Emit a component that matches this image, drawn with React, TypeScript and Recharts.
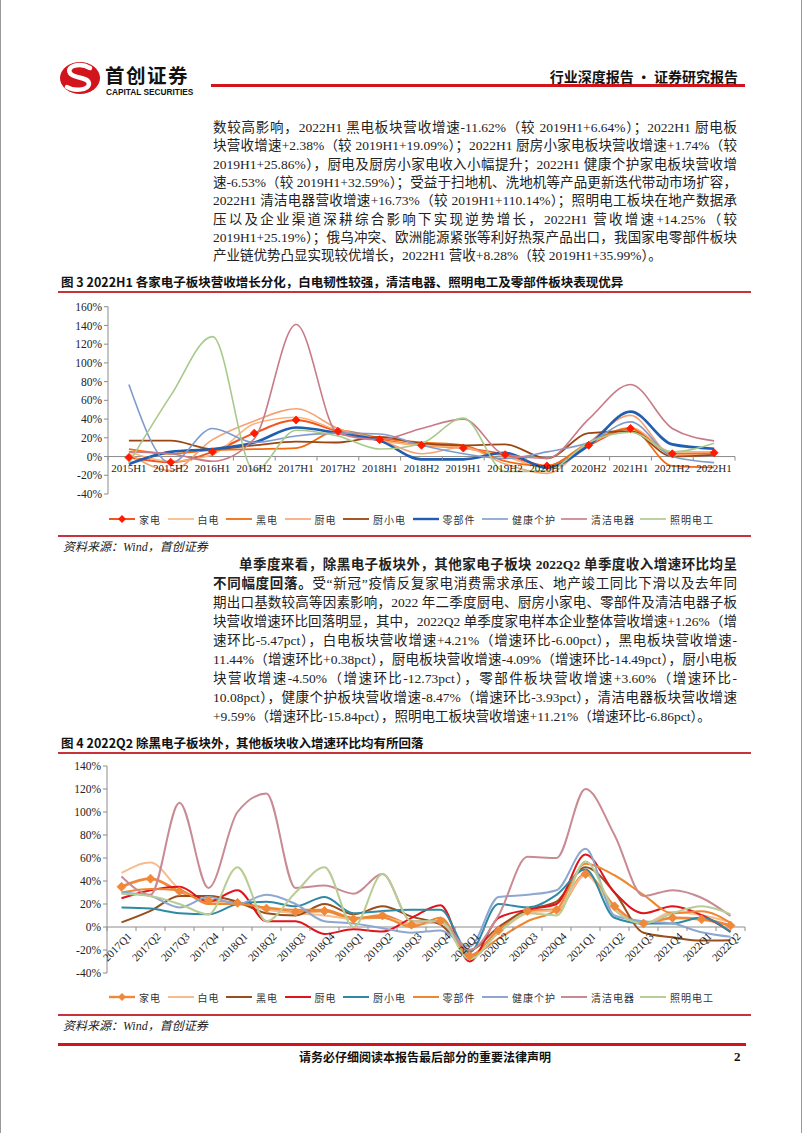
import React from 'react'
import { LineChart, Line, XAxis, YAxis, ReferenceLine, Legend } from 'recharts'

// ---------- 图3 半年度 ----------
const halfYears = ['2015H1', '2015H2', '2016H1', '2016H2', '2017H1', '2017H2', '2018H1', '2018H2', '2019H1', '2019H2', '2020H1', '2020H2', '2021H1', '2021H2', '2022H1']
const h1Jiadian = [-1, -6, 5, 25, 39, 27, 18, 12, 9, 2, -10, 12, 30, 3, 4]
const h1Baidian = [5, -5, 2, 35, 42, 28, 17, 12, 9, 0, -12, 13, 31, 5, 5]
const h1Heidian = [8, 3, 7, 8, 9, 28, 20, 15, 12, -5, -10, 15, 30, -10, -11.62]
const h1Chudian = [3, -15, 18, 38, 51, 30, 18, 3, 10, -8, -18, 15, 44, 2, 2.38]
const h1Chuxiaodian = [17, 17, 8, 12, 16, 15, 21, 14, 12, 13, -2, 25, 27, 0, 1.74]
const h1Lingbujian = [-8, 5, 8, 15, 31, 25, 17, -3, -3, 4, -12, 12, 48, 13, 8.28]
const h1Jiankang = [77, -7, 30, 15, 22, 25, 24, 12, 3, -2, 5, 15, 37, 0, -6.53]
const h1Qingjie = [5, 3, -5, 19, 141, 25, 18, 30, 40, 2, -2, 40, 77, 30, 16.73]
const h1Zhaoming = [-7, 65, 128, -15, 28, 22, 8, 14, 41, -16, -15, 15, 26, 5, 14.25]
const h1Ticks = [-40, -20, 0, 20, 40, 60, 80, 100, 120, 140, 160]

// ---------- 图4 单季度 ----------
const quarters = ['2017Q1', '2017Q2', '2017Q3', '2017Q4', '2018Q1', '2018Q2', '2018Q3', '2018Q4', '2019Q1', '2019Q2', '2019Q3', '2019Q4', '2020Q1', '2020Q2', '2020Q3', '2020Q4', '2021Q1', '2021Q2', '2021Q3', '2021Q4', '2022Q1', '2022Q2']
const qJiadian = [35, 42, 31, 23, 21, 16, 13, 14, 7, 10, 2, 5, -25, -3, 14, 15, 46, 18, 3, 8, 6.73, 1.26]
const qBaidian = [47, 56, 33, 22, 20, 15, 12, 10, 7, 8, 3, 4, -27, -5, 12, 15, 45, 15, 3, 13, 10.21, 4.21]
const qHeidian = [4, 14, 27, 27, 22, 12, 10, 20, 11, 18, 9, 2, -20, 0, 15, 22, 52, 30, -5, -9, -11.82, -11.44]
const qChudian = [25, 32, 35, 22, 32, 5, 5, -6, -2, -4, 8, 19, -30, 8, 15, 20, 63, 30, 12, 18, 10.4, -4.09]
const qChuxiaodian = [17, 16, 12, 11, 20, 22, 18, 26, 12, 14, 15, 15, -22, 20, 17, 28, 50, 8, 3, 3, 8.23, -4.5]
const qLingbujian = [30, 33, 32, 20, 20, 17, 15, 15, 8, 8, 0, 8, -25, -10, 5, 15, 55, 45, 28, 12, 13.68, 3.6]
const qJiankang = [30, 27, 17, 26, 20, 28, 20, 5, 3, -1, -5, -3, -17, 26, 28, 32, 68, 10, 5, 3, -4.54, -8.47]
const qQingjie = [44, 28, 108, 34, 100, 116, 34, 36, 29, 46, 5, 5, -20, 10, 61, 60, 120, 80, 27, 32, 25.43, 9.59]
const qZhaoming = [29, 27, 20, 11, 52, 5, 30, 52, 0, 46, 5, 5, -28, -5, 12, 10, 57, 15, 3, 12, 18.07, 11.21]
const qTicks = [-40, -20, 0, 20, 40, 60, 80, 100, 120, 140]

const h1Series = [
  { name: '家电', values: h1Jiadian, color: '#F0561E', width: 2, marker: '#FF1A00' },
  { name: '白电', values: h1Baidian, color: '#F9B47C', width: 1.6 },
  { name: '黑电', values: h1Heidian, color: '#F26B10', width: 1.8 },
  { name: '厨电', values: h1Chudian, color: '#F5A272', width: 1.6 },
  { name: '厨小电', values: h1Chuxiaodian, color: '#9A4612', width: 1.8 },
  { name: '零部件', values: h1Lingbujian, color: '#1F5EB0', width: 2.6 },
  { name: '健康个护', values: h1Jiankang, color: '#7F9BCC', width: 1.6 },
  { name: '清洁电器', values: h1Qingjie, color: '#C97A87', width: 1.6 },
  { name: '照明电工', values: h1Zhaoming, color: '#A9C98B', width: 1.6 },
]

const qSeries = [
  { name: '家电', values: qJiadian, color: '#F0883A', width: 2.8, marker: '#F0883A' },
  { name: '白电', values: qBaidian, color: '#F7BC8E', width: 2 },
  { name: '黑电', values: qHeidian, color: '#9A4E1E', width: 2 },
  { name: '厨电', values: qChudian, color: '#E0141C', width: 2 },
  { name: '厨小电', values: qChuxiaodian, color: '#2E8AA4', width: 2 },
  { name: '零部件', values: qLingbujian, color: '#EE8632', width: 2 },
  { name: '健康个护', values: qJiankang, color: '#8DA7D0', width: 2 },
  { name: '清洁电器', values: qQingjie, color: '#C98B93', width: 2 },
  { name: '照明电工', values: qZhaoming, color: '#B8CC96', width: 2 },
]

const h1Data = halfYears.map((cat, i) => {
  const row: any = { cat }
  h1Series.forEach((s) => (row[s.name] = s.values[i]))
  return row
})
const qData = quarters.map((cat, i) => {
  const row: any = { cat }
  qSeries.forEach((s) => (row[s.name] = s.values[i]))
  return row
})

const SERIF = '"Liberation Serif", "Noto Sans CJK SC", serif'
const CJK = '"Noto Sans CJK SC", sans-serif'
const RED = '#D2141C'
const AXIS = '#8C8C8C'

// chart geometry
const H1_PLOT_H = 187.3
const H1_PLOT_W = 627
const H1_BAND = H1_PLOT_W / halfYears.length
const Q_PLOT_H = 207
const Q_PLOT_W = 638
const Q_BAND = Q_PLOT_W / quarters.length

function HalfTick(props: any) {
  const { x, y, payload, index } = props
  const zy = y - (H1_PLOT_H * 40) / 200
  return (
    <g>
      <line x1={x - H1_BAND / 2} x2={x - H1_BAND / 2} y1={zy} y2={zy + 4} stroke={AXIS} />
      {index === halfYears.length - 1 && <line x1={x + H1_BAND / 2} x2={x + H1_BAND / 2} y1={zy} y2={zy + 4} stroke={AXIS} />}
      <text x={x} y={zy + 15} textAnchor="middle" fontSize={11} fontFamily={SERIF} fill="#222">
        {payload.value}
      </text>
    </g>
  )
}

function QuarterTick(props: any) {
  const { x, y, payload, index } = props
  const zy = y - (Q_PLOT_H * 40) / 180
  const ax = x + 11
  const ay = zy + 10
  return (
    <g>
      <line x1={x - Q_BAND / 2} x2={x - Q_BAND / 2} y1={zy} y2={zy + 4} stroke={AXIS} />
      {index === quarters.length - 1 && <line x1={x + Q_BAND / 2} x2={x + Q_BAND / 2} y1={zy} y2={zy + 4} stroke={AXIS} />}
      <text x={ax} y={ay} textAnchor="end" fontSize={11} fontFamily={SERIF} fill="#222" transform={`rotate(-45, ${ax}, ${ay})`}>
        {payload.value}
      </text>
    </g>
  )
}

function Diamond(size: number, color: string) {
  return (props: any) => {
    const { cx, cy, index } = props
    if (cx == null || cy == null) return <g key={index} />
    const h = size / 2
    return <path key={index} d={`M${cx},${cy - h}L${cx + h},${cy}L${cx},${cy + h}L${cx - h},${cy}Z`} fill={color} stroke={color} strokeWidth={0.8} />
  }
}

function makeLegend(series: any[]) {
  return () => (
    <div style={{ display: 'flex', alignItems: 'center', height: 20 }}>
      {series.map((s) => (
        <div key={s.name} style={{ display: 'flex', alignItems: 'center', width: s.name.length === 2 ? 58.5 : s.name.length === 3 ? 69.5 : 79 }}>
          <svg width={26} height={10} style={{ display: 'block' }}>
            <line x1={0} x2={26} y1={5} y2={5} stroke={s.color} strokeWidth={Math.min(s.width, 2.4)} />
            {s.marker && <path d="M13,1L17,5L13,9L9,5Z" fill={s.marker} />}
          </svg>
          <span style={{ marginLeft: 4, fontSize: 10, letterSpacing: 1, fontFamily: CJK, color: '#333', whiteSpace: 'nowrap' }}>{s.name}</span>
        </div>
      ))}
    </div>
  )
}

function HalfChart() {
  return (
    <LineChart width={802} height={239} data={h1Data} margin={{ top: 16.7, right: 68, left: 57, bottom: 0 }}>
      <XAxis dataKey="cat" interval={0} padding={{ left: H1_BAND / 2, right: H1_BAND / 2 }} axisLine={false} tickLine={false} tickSize={0} tickMargin={0} height={15} tick={<HalfTick />} />
      <YAxis type="number" domain={[-40, 160]} ticks={h1Ticks} width={50} axisLine={{ stroke: AXIS }} tickLine={{ stroke: AXIS }} tickSize={4} tickFormatter={(v) => `${v}%`} tick={{ fontSize: 11.5, fontFamily: SERIF, fill: '#222' }} />
      <ReferenceLine y={0} stroke={AXIS} />
      {h1Series.map((s) => (
        <Line key={s.name} type="monotone" dataKey={s.name} stroke={s.color} strokeWidth={s.width} dot={s.marker ? Diamond(8, s.marker) : false} activeDot={false} isAnimationActive={false} />
      ))}
      <Legend verticalAlign="bottom" content={makeLegend(h1Series)} wrapperStyle={{ left: 108, width: 640, height: 20 }} />
    </LineChart>
  )
}

function QuarterChart() {
  return (
    <LineChart width={802} height={252} data={qData} margin={{ top: 11, right: 58, left: 56, bottom: 0 }}>
      <XAxis dataKey="cat" interval={0} padding={{ left: Q_BAND / 2, right: Q_BAND / 2 }} axisLine={false} tickLine={false} tickSize={0} tickMargin={0} height={14} tick={<QuarterTick />} />
      <YAxis type="number" domain={[-40, 140]} ticks={qTicks} width={50} axisLine={{ stroke: AXIS }} tickLine={{ stroke: AXIS }} tickSize={4} tickFormatter={(v) => `${v}%`} tick={{ fontSize: 11.5, fontFamily: SERIF, fill: '#222' }} />
      <ReferenceLine y={0} stroke={AXIS} />
      {qSeries.map((s) => (
        <Line key={s.name} type="monotone" dataKey={s.name} stroke={s.color} strokeWidth={s.width} dot={s.marker ? Diamond(9, s.marker) : false} activeDot={false} isAnimationActive={false} />
      ))}
      <Legend verticalAlign="bottom" content={makeLegend(qSeries)} wrapperStyle={{ left: 108, width: 640, height: 20 }} />
    </LineChart>
  )
}

const para1 = [
  '数较高影响，2022H1 黑电板块营收增速-11.62%（较 2019H1+6.64%）；2022H1 厨电板',
  '块营收增速+2.38%（较 2019H1+19.09%）；2022H1 厨房小家电板块营收增速+1.74%（较',
  '2019H1+25.86%），厨电及厨房小家电收入小幅提升；2022H1 健康个护家电板块营收增',
  '速-6.53%（较 2019H1+32.59%）；受益于扫地机、洗地机等产品更新迭代带动市场扩容，',
  '2022H1 清洁电器营收增速+16.73%（较 2019H1+110.14%）；照明电工板块在地产数据承',
  '压以及企业渠道深耕综合影响下实现逆势增长，2022H1 营收增速+14.25%（较',
  '2019H1+25.19%）；俄乌冲突、欧洲能源紧张等利好热泵产品出口，我国家电零部件板块',
  '产业链优势凸显实现较优增长，2022H1 营收+8.28%（较 2019H1+35.99%）。',
]

const para2 = [
  '期出口基数较高等因素影响，2022 年二季度厨电、厨房小家电、零部件及清洁电器子板',
  '块营收增速环比回落明显，其中，2022Q2 单季度家电样本企业整体营收增速+1.26%（增',
  '速环比-5.47pct），白电板块营收增速+4.21%（增速环比-6.00pct），黑电板块营收增速-',
  '11.44%（增速环比+0.38pct），厨电板块营收增速-4.09%（增速环比-14.49pct），厨小电板',
  '块营收增速-4.50%（增速环比-12.73pct），零部件板块营收增速+3.60%（增速环比-',
  '10.08pct），健康个护板块营收增速-8.47%（增速环比-3.93pct），清洁电器板块营收增速',
  '+9.59%（增速环比-15.84pct），照明电工板块营收增速+11.21%（增速环比-6.86pct）。',
]

function TextLine({ cy, children, last, indent }: any) {
  return (
    <div
      style={{
        position: 'absolute',
        left: 212,
        top: cy - 9,
        width: 524,
        height: 18,
        lineHeight: '18px',
        fontSize: 13.5,
        fontFamily: SERIF,
        color: '#222',
        textAlign: 'justify',
        textAlignLast: last ? 'left' : 'justify',
        paddingLeft: indent || 0,
        boxSizing: 'border-box',
        whiteSpace: 'nowrap',
      } as any}
    >
      {children}
    </div>
  )
}

function abs(left: number, cy: number, size: number, extra: any = {}) {
  return { position: 'absolute', left, top: cy - size * 0.75, height: size * 1.5, lineHeight: `${size * 1.5}px`, fontSize: size, whiteSpace: 'nowrap', ...extra } as any
}

export default function App() {
  return (
    <div style={{ position: 'relative', width: 800, height: 1133, background: '#fff', borderLeft: '1px solid #9a9a9a', borderRight: '1px solid #9a9a9a', overflow: 'hidden' }}>
      <style>{'body{margin:0}'}</style>

      {/* header */}
      <svg style={{ position: 'absolute', left: 57, top: 61 }} width={46} height={36}>
        <ellipse cx={22} cy={17} rx={20} ry={16} fill={RED} />
        <path d="M32,7 C22,1 8,5 12,12 C15,18 31,15 31,23 C30,30 15,30 9,26" stroke="#fff" strokeWidth={4.5} fill="none" strokeLinecap="round" />
      </svg>
      <div style={abs(104, 75, 19.5, { fontFamily: CJK, fontWeight: 700, color: '#111', letterSpacing: 1.5 })}>首创证券</div>
      <div style={abs(105, 92.5, 8.3, { fontFamily: '"Liberation Sans", Arial, sans-serif', fontWeight: 700, color: '#111' })}>CAPITAL SECURITIES</div>
      <div style={{ position: 'absolute', left: 210, top: 84, width: 534, height: 3, background: RED }} />
      <div style={abs(547, 76, 14, { fontFamily: CJK, fontWeight: 700, color: '#111', width: 190, textAlign: 'right' })}>行业深度报告 · 证券研究报告</div>

      {/* paragraph 1 */}
      {para1.map((t, i) => (
        <TextLine key={i} cy={128 + i * 18.3} last={i === para1.length - 1}>
          {t}
        </TextLine>
      ))}

      {/* figure 3 */}
      <div style={abs(60, 282, 12.5, { fontFamily: CJK, fontWeight: 700, color: '#111' })}>图 3 2022H1 各家电子板块营收增长分化，白电韧性较强，清洁电器、照明电工及零部件板块表现优异</div>
      <div style={{ position: 'absolute', left: 57, top: 291, width: 693, height: 1.5, background: '#C8323A' }} />
      <div style={{ position: 'absolute', left: 0, top: 290 }}>
        <HalfChart />
      </div>
      <div style={{ position: 'absolute', left: 57, top: 535, width: 693, height: 1.5, background: '#C8323A' }} />
      <div style={abs(62, 547, 12, { fontFamily: SERIF, fontStyle: 'italic', color: '#222' })}>资料来源：Wind，首创证券</div>

      {/* paragraph 2 */}
      <TextLine cy={565} indent={26}>
        <b>单季度来看，除黑电子板块外，其他家电子板块 2022Q2 单季度收入增速环比均呈</b>
      </TextLine>
      <TextLine cy={584}>
        <b>不同幅度回落。</b>受“新冠”疫情反复家电消费需求承压、地产竣工同比下滑以及去年同
      </TextLine>
      {para2.map((t, i) => (
        <TextLine key={i} cy={603 + i * 19} last={i === para2.length - 1}>
          {t}
        </TextLine>
      ))}

      {/* figure 4 */}
      <div style={abs(60, 743, 12.5, { fontFamily: CJK, fontWeight: 700, color: '#111' })}>图 4 2022Q2 除黑电子板块外，其他板块收入增速环比均有所回落</div>
      <div style={{ position: 'absolute', left: 57, top: 752, width: 693, height: 1.5, background: '#C8323A' }} />
      <div style={{ position: 'absolute', left: 0, top: 755 }}>
        <QuarterChart />
      </div>
      <div style={{ position: 'absolute', left: 57, top: 1014, width: 693, height: 1.5, background: '#C8323A' }} />
      <div style={abs(62, 1026, 12, { fontFamily: SERIF, fontStyle: 'italic', color: '#222' })}>资料来源：Wind，首创证券</div>

      {/* footer */}
      <div style={{ position: 'absolute', left: 57, top: 1043, width: 688, height: 3, background: RED }} />
      <div style={abs(298, 1057, 12, { fontFamily: CJK, fontWeight: 700, color: '#111', width: 250, textAlign: 'center' })}>请务必仔细阅读本报告最后部分的重要法律声明</div>
      <div style={abs(733, 1057, 13, { fontFamily: SERIF, fontWeight: 700, color: '#111' })}>2</div>
    </div>
  )
}
